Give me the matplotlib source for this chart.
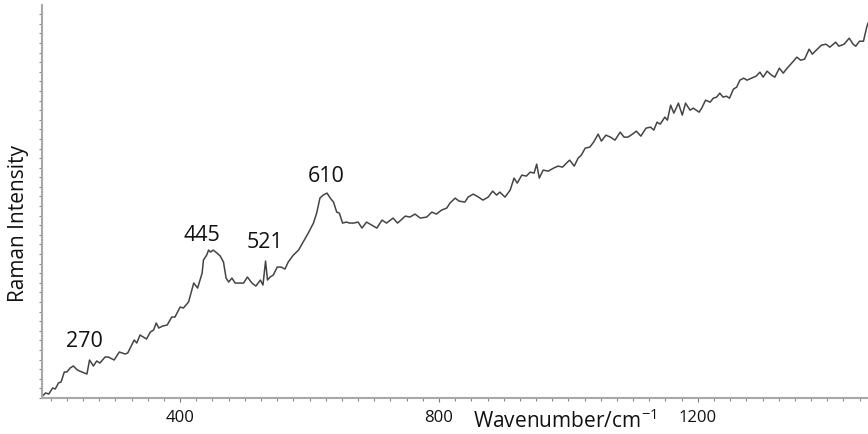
import matplotlib
matplotlib.use("Agg")
import matplotlib.pyplot as plt
from matplotlib.ticker import MultipleLocator, FixedLocator, NullFormatter

plt.rcParams['font.family'] = ['Open Sans', 'DejaVu Sans']
plt.rcParams['mathtext.fontset'] = 'custom'
plt.rcParams['mathtext.rm'] = 'Open Sans'
plt.rcParams['mathtext.it'] = 'Open Sans'

wavenumber = [186, 192, 197, 203, 207, 212, 216, 221, 225, 230, 235, 241, 248, 256, 260, 266, 271, 276,
              284, 289, 298, 306, 315, 319, 329, 333, 338, 348, 354, 359, 363, 367, 373, 380, 387, 392,
              400, 405, 413, 421, 427, 434, 436, 441, 444, 447, 451, 457, 462, 467, 471, 475, 480, 485,
              490, 498, 504, 511, 517, 524, 528, 532, 535, 539, 544, 550, 556, 562, 567, 575, 583, 590,
              598, 606, 611, 616, 621, 627, 632, 637, 642, 646, 651, 657, 662, 668, 675, 681, 688, 696,
              704, 712, 719, 729, 736, 748, 755, 763, 771, 781, 789, 796, 804, 812, 817, 825, 831, 840,
              845, 853, 861, 868, 876, 883, 889, 894, 902, 910, 916, 921, 928, 935, 941, 947, 951, 955,
              961, 969, 977, 984, 991, 997, 1002, 1009, 1015, 1020, 1026, 1033, 1039, 1046, 1051, 1058,
              1065, 1072, 1080, 1086, 1092, 1099, 1105, 1112, 1120, 1127, 1132, 1137, 1142, 1149, 1153,
              1158, 1163, 1170, 1176, 1181, 1188, 1193, 1202, 1206, 1212, 1219, 1224, 1229, 1234, 1239,
              1244, 1249, 1255, 1260, 1265, 1271, 1276, 1283, 1290, 1296, 1301, 1307, 1314, 1319, 1326,
              1332, 1338, 1345, 1353, 1359, 1365, 1372, 1377, 1383, 1391, 1398, 1404, 1413, 1418, 1426,
              1434, 1440, 1444, 1450, 1456, 1461, 1463]
intensity = [1, 5, 4, 10, 9, 15, 16, 26, 26, 30, 32, 28, 26, 24, 38, 32, 37, 35,
             41, 41, 38, 46, 44, 45, 58, 55, 63, 59, 66, 68, 75, 70, 72, 73, 81, 81,
             91, 90, 96, 115, 110, 125, 138, 143, 148, 146, 148, 145, 142, 136, 120, 116, 120, 115,
             115, 115, 121, 115, 112, 118, 113, 137, 118, 121, 123, 131, 131, 129, 136, 143, 148, 156,
             165, 175, 185, 200, 203, 205, 200, 196, 186, 185, 175, 176, 175, 175, 176, 170, 176, 173,
             170, 178, 175, 180, 175, 182, 181, 184, 180, 181, 186, 184, 188, 190, 195, 200, 197, 196,
             201, 204, 201, 198, 201, 207, 203, 206, 201, 208, 220, 215, 223, 222, 226, 225, 234, 220,
             228, 227, 230, 232, 231, 235, 238, 232, 240, 243, 250, 251, 256, 264, 257, 263,
             261, 258, 266, 261, 261, 264, 267, 262, 270, 271, 268, 276, 274, 281, 278,
             293, 285, 295, 283, 295, 288, 290, 286, 290, 298, 296, 300, 301, 305, 301,
             302, 300, 309, 311, 318, 320, 318, 320, 322, 326, 321, 327, 323, 321, 330,
             325, 330, 335, 341, 338, 339, 349, 344, 348, 353, 354, 351, 356, 352, 354,
             360, 354, 352, 357, 357, 371, 375]

peak_labels = ["270", "445", "521", "610"]
peak_label_x = [252, 434, 531, 625]
peak_label_y = [57, 163, 156, 222]

xtick_values = [400, 800, 1200]
xtick_labels = ["400", "800", "1200"]

fig = plt.figure(figsize=(8.68, 4.34), dpi=100)
ax = fig.add_axes([0.048, 0.083, 0.952, 0.905])

ax.plot(wavenumber, intensity, color='#444444', lw=1.1)

ax.set_xlim(186, 1463)
ax.set_ylim(0, 393)

for s in ['top', 'right']:
    ax.spines[s].set_visible(False)
for s in ['left', 'bottom']:
    ax.spines[s].set_color('#a8a8a8')
    ax.spines[s].set_linewidth(1.5)

ax.xaxis.set_major_locator(FixedLocator(xtick_values))
ax.set_xticklabels(xtick_labels, fontsize=12)
ax.xaxis.set_minor_locator(MultipleLocator(25))
ax.tick_params(axis='x', which='major', length=3, width=0.8, color='#777777', pad=6, labelcolor='#111111')
ax.tick_params(axis='x', which='minor', length=2, width=0.8, color='#888888')

ax.yaxis.set_major_locator(MultipleLocator(9.6))
ax.yaxis.set_major_formatter(NullFormatter())
ax.tick_params(axis='y', which='major', length=2.5, width=0.8, color='#888888')

for lab, lx, ly in zip(peak_labels, peak_label_x, peak_label_y):
    ax.text(lx, ly, lab, fontsize=15.5, ha='center', va='center', color='#111111')

fig.text(0.021, 0.485, "Raman Intensity", rotation=90, fontsize=15, ha='center', va='center', color='#111111')
fig.text(0.651, 0.03, "Wavenumber/cm$^{-1}$", fontsize=15, ha='center', va='center', color='#111111')

fig.savefig("out.png", dpi=100)
